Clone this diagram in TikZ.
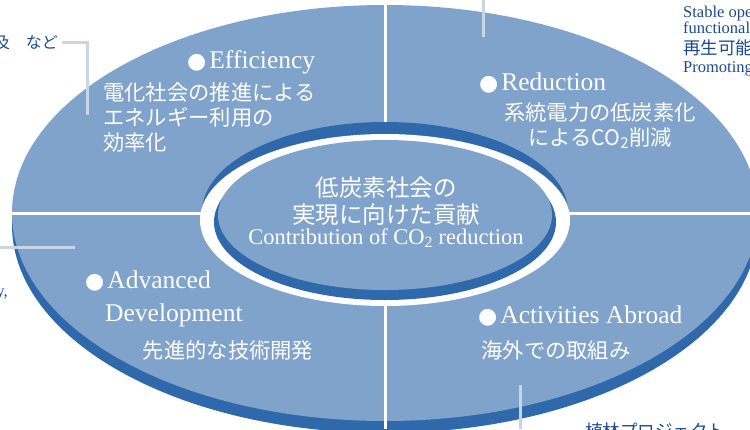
\documentclass[tikz,border=0pt]{standalone}
\usepackage{fontspec}
\setmainfont{Liberation Serif}
\newfontfamily\jpfont{Noto Sans CJK JP}
\newfontfamily\bulletfont{DejaVu Sans}
\definecolor{topblue}{HTML}{7FA3CB}
\definecolor{rimblue}{HTML}{2F69AC}
\definecolor{leadgray}{HTML}{C9D5E4}
\definecolor{inkblue}{HTML}{1A4A94}
\newcommand{\bul}{{\bulletfont\fontsize{22}{24}\selectfont ●}\hspace{3pt}}
\tikzset{
  head/.style={text=white, inner sep=0pt, font=\fontsize{25.5}{28}\selectfont},
  body/.style={text=white, inner sep=0pt, font=\jpfont\fontsize{21.3}{25}\selectfont},
  goal/.style={text=white, inner sep=0pt, font=\jpfont\fontsize{23.5}{27}\selectfont},
  goalen/.style={text=white, inner sep=0pt, font=\fontsize{22.5}{24}\selectfont},
  side/.style={text=inkblue, inner sep=0pt, font=\fontsize{16.5}{18}\selectfont},
  sidejp/.style={text=inkblue, inner sep=0pt, font=\jpfont\fontsize{17.5}{20}\selectfont},
  lead/.style={leadgray, line width=3pt},
  divider/.style={white, line width=3pt}
}
\begin{document}
\begin{tikzpicture}[x=1pt,y=-1pt]
  \useasboundingbox (0,0) rectangle (750,429);
  % disc
  \fill[rimblue] (385,225) ellipse [x radius=373pt, y radius=208pt];
  \fill[topblue] (385,213) ellipse [x radius=373pt, y radius=208pt];
  \draw[divider] (385,0) -- (385,429);
  \draw[divider] (0,213) -- (750,213);
  % centre
  \fill[rimblue] (385,212) ellipse [x radius=183pt, y radius=90pt];
  \fill[white] (385,220) ellipse [x radius=185pt, y radius=86pt];
  \fill[rimblue] (385,222) ellipse [x radius=171pt, y radius=78pt];
  \fill[topblue] (385,215) ellipse [x radius=167pt, y radius=75pt];
  \node[goal, anchor=base] (goal1) at (386,196) {低炭素社会の};
  \node[goal, anchor=base] (goal2) at (386,223) {実現に向けた貢献};
  \node[goalen, anchor=base] (goal3) at (386,244) {Contribution of CO\textsubscript{2} reduction};
  % quadrants
  \node[head, anchor=base west] (eff) at (187,68) {\bul Efficiency};
  \node[body, anchor=north west, align=left] (efftext) at (103,82)
    {電化社会の推進による\\エネルギー利用の\\効率化};
  \node[head, anchor=base west] (red) at (479,90) {\bul Reduction};
  \node[body, anchor=north, align=center] (redtext) at (600,102)
    {系統電力の低炭素化\\によるCO\textsubscript{2}削減};
  \node[head, anchor=base west] (adv) at (85,288) {\bul Advanced};
  \node[head, anchor=base west] (adv2) at (105,321) {Development};
  \node[body] (advtext) at (228,350) {先進的な技術開発};
  \node[head, anchor=base west] (abr) at (478,323) {\bul Activities Abroad};
  \node[body] (abrtext) at (556,350) {海外での取組み};
  % side notes
  \node[sidejp, font=\jpfont\fontsize{16}{18}\selectfont, anchor=base east] (nado) at (58,48) {及　など};
  \node[side, anchor=base west] (stable) at (683,17) {Stable oper};
  \node[side, anchor=base west] (func) at (683,33) {functional};
  \node[sidejp, anchor=base west] (renew) at (683,54) {再生可能};
  \node[side, anchor=base west] (promo) at (683,72) {Promoting};
  \node[side, anchor=base east] (comma) at (8,296) {y,};
  \node[sidejp, anchor=north west] (plant) at (585,423) {植林プロジェクト};
  % leads
  \coordinate (effend) at (87,115);
  \coordinate (redtop) at (483,0);
  \coordinate (redend) at (483,37);
  \coordinate (advtop) at (0,247);
  \coordinate (advend) at (75,247);
  \coordinate (abrend) at (520,385);
  \coordinate (abrbot) at (520,429);
  \draw[lead] ([xshift=4pt]nado.east) -| (effend);
  \draw[lead] (redtop) -- (redend);
  \draw[lead] (advtop) -- (advend);
  \draw[lead] (abrbot) -- (abrend);
\end{tikzpicture}
\end{document}
